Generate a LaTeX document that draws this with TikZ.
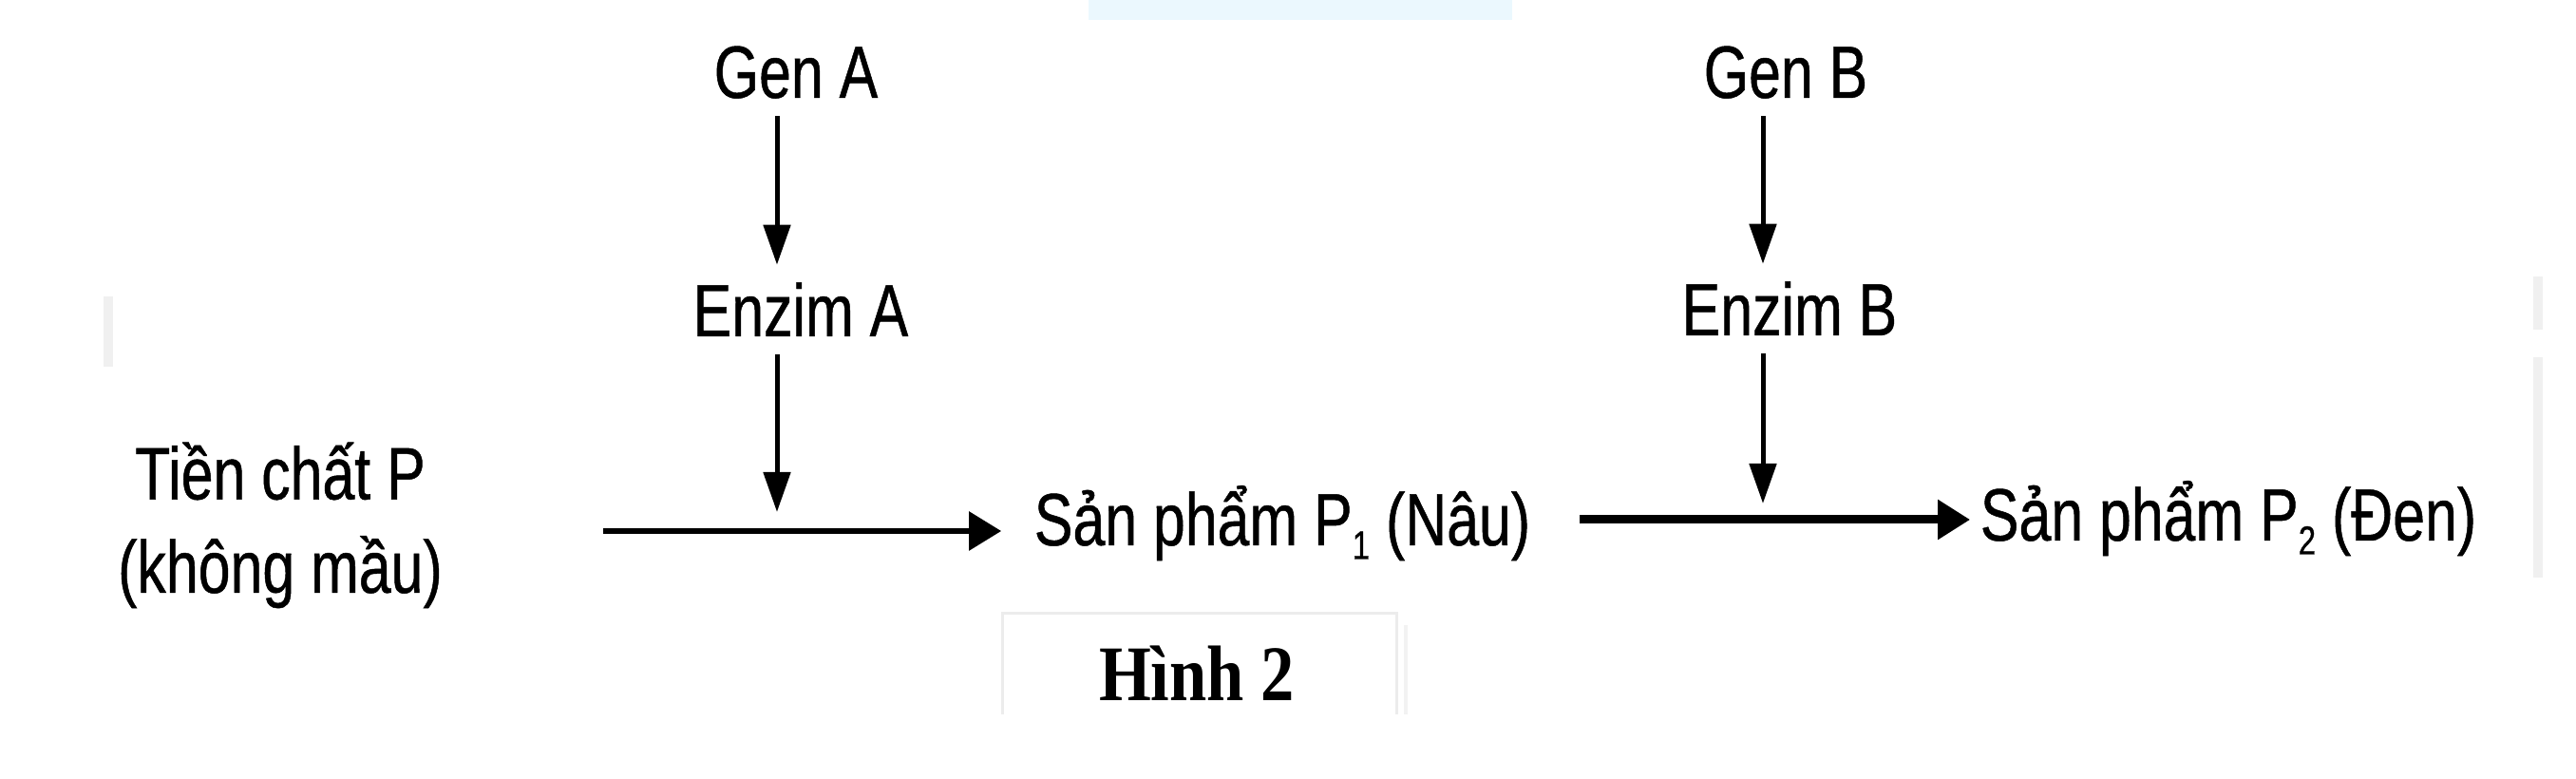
\documentclass[tikz,border=0pt]{standalone}
\usepackage{fontspec}
\setmainfont{Liberation Sans}[FakeStretch=0.78, FakeBold=0.6]
\newfontfamily\hinhfont{Liberation Serif}[FakeStretch=0.85]
\usetikzlibrary{arrows.meta}

\newcommand{\lowidx}[1]{\raisebox{-0.35ex}{\fontsize{12}{12}\selectfont #1}}

\begin{document}
\begin{tikzpicture}[>={Triangle[length=0.42cm,width=0.28cm]},
    font=\fontsize{22.2}{28}\selectfont,
    word/.style={inner xsep=0.18cm, inner ysep=0.18cm, anchor=base, align=center},
    down/.style={->, line width=0.05cm},
    flow/.style={-{Triangle[length=0.34cm,width=0.4cm]}},
    ghost/.style={fill=gray!12, draw=none}]
    \useasboundingbox (0,0) rectangle (27.12,8.2);
    % faint marks of the scan
    \fill[cyan!8] (11.46,8.2) rectangle (15.92,7.99);
    \path[ghost] (1.09,5.08) rectangle (1.19,4.34);
    \path[ghost] (26.67,5.29) rectangle (26.77,4.73);
    \path[ghost] (26.67,4.44) rectangle (26.77,2.12);
    \draw[gray!15, line width=0.03cm] (10.55,0.68) |- (14.70,1.74) -- (14.70,0.68);
    \draw[gray!10, line width=0.04cm] (14.80,1.62) -- (14.80,0.68);

    \node[word] (genA) at (8.38,7.17) {Gen A};
    \node[word] (enzA) at (8.43,4.66) {Enzim A};
    \node[word] (genB) at (18.80,7.17) {Gen B};
    \node[word] (enzB) at (18.84,4.67) {Enzim B};
    \node[word] (tien) at (2.95,1.96) {Tiền chất P\\(không mầu)};
    \node[word] (p1) at (13.50,2.46) {Sản phẩm P\lowidx{1} (Nâu)};
    \node[word] (p2) at (23.46,2.51) {Sản phẩm P\lowidx{2} (Đen)};
    \node[word, font=\hinhfont\bfseries\fontsize{23.6}{28}\selectfont] (hinh) at (12.60,0.82) {Hình 2};

    \coordinate (jA) at (8.18,2.81);
    \coordinate (jB) at (18.56,2.90);
    \coordinate (hA) at (8.18,2.61);
    \coordinate (hB) at (18.56,2.73);

    \draw[down] (genA.south -| jA) -- (enzA.north -| jA);
    \draw[down] (enzA.south -| jA) -- (jA);
    \draw[down] (genB.south -| jB) -- (enzB.north -| jB);
    \draw[down] (enzB.south -| jB) -- (jB);
    \draw[flow, line width=0.06cm, shorten <=1.5cm, shorten >=0.16cm]
        (tien.east |- hA) -- (p1.west |- hA);
    \draw[flow, line width=0.09cm, shorten <=0.33cm, shorten >=-0.08cm]
        (p1.east |- hB) -- (p2.west |- hB);
\end{tikzpicture}
\end{document}
